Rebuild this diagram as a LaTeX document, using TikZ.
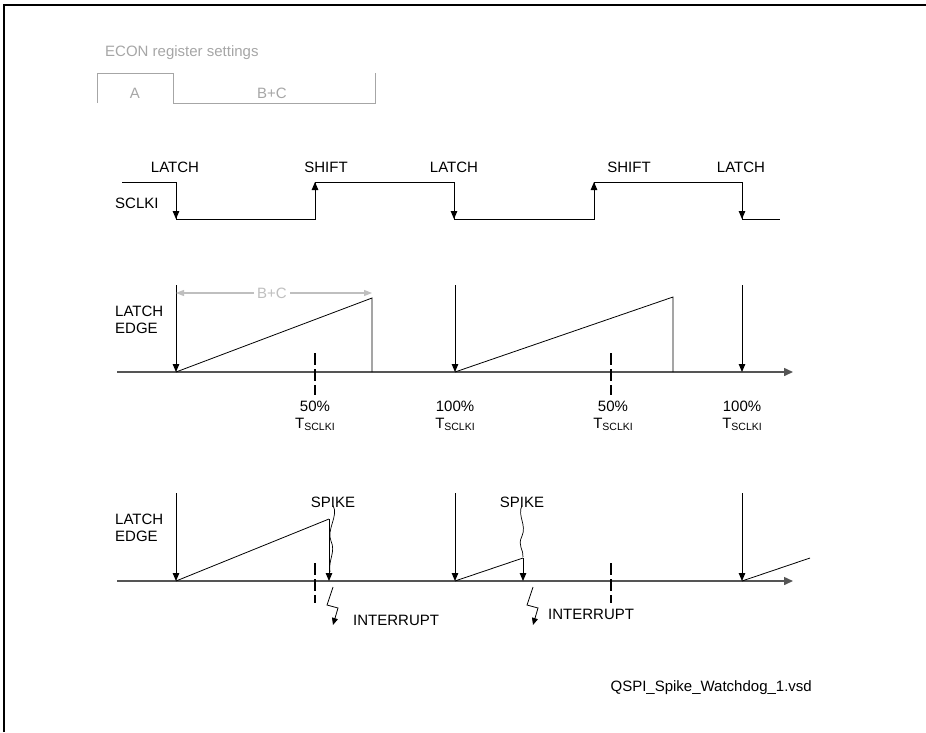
\documentclass[tikz,border=0pt]{standalone}
\usepackage{fontspec}
\setmainfont{Liberation Sans}
\usepackage{tikz}
\usetikzlibrary{arrows.meta,positioning}
\definecolor{TabGray}{HTML}{A6A6A6}
\definecolor{DimGray}{HTML}{BFBFBF}
\definecolor{AxisGray}{HTML}{555555}
\newcommand{\tsclki}{T\raisebox{-2pt}{\fontsize{10.5}{11}\selectfont SCLKI}}

\begin{document}
\begin{tikzpicture}[
    x=1pt, y=-1pt,
    font=\fontsize{15}{17}\selectfont,
    lbl/.style={inner sep=0pt, align=left},
    pct/.style={inner sep=0pt, align=center},
    frame/.style={line width=1.5pt},
    tab/.style={draw=TabGray, line width=0.9pt},
    clk/.style={line width=1pt},
    edgearr/.style={line width=1pt, -{Triangle[length=8pt,width=6.5pt]}},
    axis/.style={draw=AxisGray, line width=1.5pt, -{Triangle[length=9pt,width=8pt]}},
    ramp/.style={line width=0.8pt},
    dimarr/.style={draw=DimGray, line width=1.2pt, {Triangle[length=8pt,width=6pt]}-{Triangle[length=8pt,width=6pt]}},
    halfmark/.style={line width=1.3pt, dash pattern=on 12pt off 4pt},
    leader/.style={line width=0.7pt},
    bolt/.style={line width=0.8pt, -{Triangle[length=7pt,width=6pt]}}
]
\useasboundingbox (0,0) rectangle (926,732);
\draw[frame] (4,732) -- (4,5) -- (926,5);

% register settings tab
\node[lbl, anchor=west, text=TabGray] (econ) at (105,53) {ECON register settings};
\draw[tab] (97,103) -- (97,73) -- (173,73) -- (173,103) -- (375,103) -- (375,73);
\node[lbl, text=TabGray] (taba) at (135,93) {A};
\node[lbl, text=TabGray] (tabbc) at (272,93) {B+C};

% SCLKI
\draw[clk] (122,182) -- (176,182) -- (176,219) -- (315,219) -- (315,182) -- (454,182)
  -- (454,219) -- (594,219) -- (594,182) -- (742,182) -- (742,219) -- (780,219);
\draw[edgearr] (176,182) -- (176,219);
\draw[edgearr] (315,219) -- (315,182);
\draw[edgearr] (454,182) -- (454,219);
\draw[edgearr] (594,219) -- (594,182);
\draw[edgearr] (742,182) -- (742,219);
\node[lbl] (latch1) at (175,167) {LATCH};
\node[lbl] (shift1) at (326,167) {SHIFT};
\node[lbl] (latch2) at (454,167) {LATCH};
\node[lbl] (shift2) at (629,167) {SHIFT};
\node[lbl] (latch3) at (741,167) {LATCH};
\node[lbl, anchor=west] (sclki) at (115,203) {SCLKI};

% watchdog without spike
\draw[axis] (117,372) -- (793,372);
\node[lbl, anchor=west] (edgemid) at (115,320) {LATCH\\EDGE};
\draw[edgearr] (176,285) -- (176,372);
\draw[edgearr] (455,285) -- (455,372);
\draw[edgearr] (742,285) -- (742,372);
\draw[ramp] (176,372) -- (372,298) -- (372,372);
\draw[ramp] (455,372) -- (673,297) -- (673,372);
\draw[dimarr] (176,293) -- (372,293);
\node[inner sep=3pt, fill=white, text=DimGray] (bc) at (272,293) {B+C};
\draw[halfmark] (315,353) -- (315,395);
\draw[halfmark] (611,353) -- (611,395);
\node[pct] (half1) at (315,416) {50\%\\\tsclki};
\node[pct] (full1) at (455,416) {100\%\\\tsclki};
\node[pct] (half2) at (613,416) {50\%\\\tsclki};
\node[pct] (full2) at (742,416) {100\%\\\tsclki};

% watchdog with spike
\draw[axis] (117,581) -- (793,581);
\node[lbl, anchor=west] (edgelow) at (115,528) {LATCH\\EDGE};
\draw[edgearr] (176,493) -- (176,581);
\draw[edgearr] (455,493) -- (455,581);
\draw[edgearr] (742,493) -- (742,581);
\draw[ramp] (176,581) -- (329,519);
\draw[edgearr] (329,519) -- (329,581);
\draw[ramp] (455,581) -- (523,558);
\draw[edgearr] (523,558) -- (523,581);
\draw[ramp] (742,581) -- (810,558);
\node[lbl] (spike1) at (333,502) {SPIKE};
\node[lbl] (spike2) at (522,502) {SPIKE};
\draw[leader] (spike1.south) ++(0,-2) .. controls +(6,10) and (326,530) .. (331,541)
  .. controls (336,552) and (328,560) .. (330,572);
\draw[leader] (spike2.south) ++(0,-2) .. controls +(-5,10) and (527,525) .. (522,536)
  .. controls (517,546) and (524,550) .. (523,557);
\draw[halfmark] (315,563) -- (315,603);
\draw[halfmark] (611,563) -- (611,603);
\draw[bolt] (333,587) -- (327,605) -- (338,608) -- (333,625);
\draw[bolt] (533,587) -- (527,605) -- (538,608) -- (533,625);
\node[lbl, anchor=west] (irq1) at (353,620) {INTERRUPT};
\node[lbl, anchor=west] (irq2) at (548,614) {INTERRUPT};

\node[lbl, anchor=east] (file) at (812,688) {QSPI\_Spike\_Watchdog\_1.vsd};
\end{tikzpicture}
\end{document}
